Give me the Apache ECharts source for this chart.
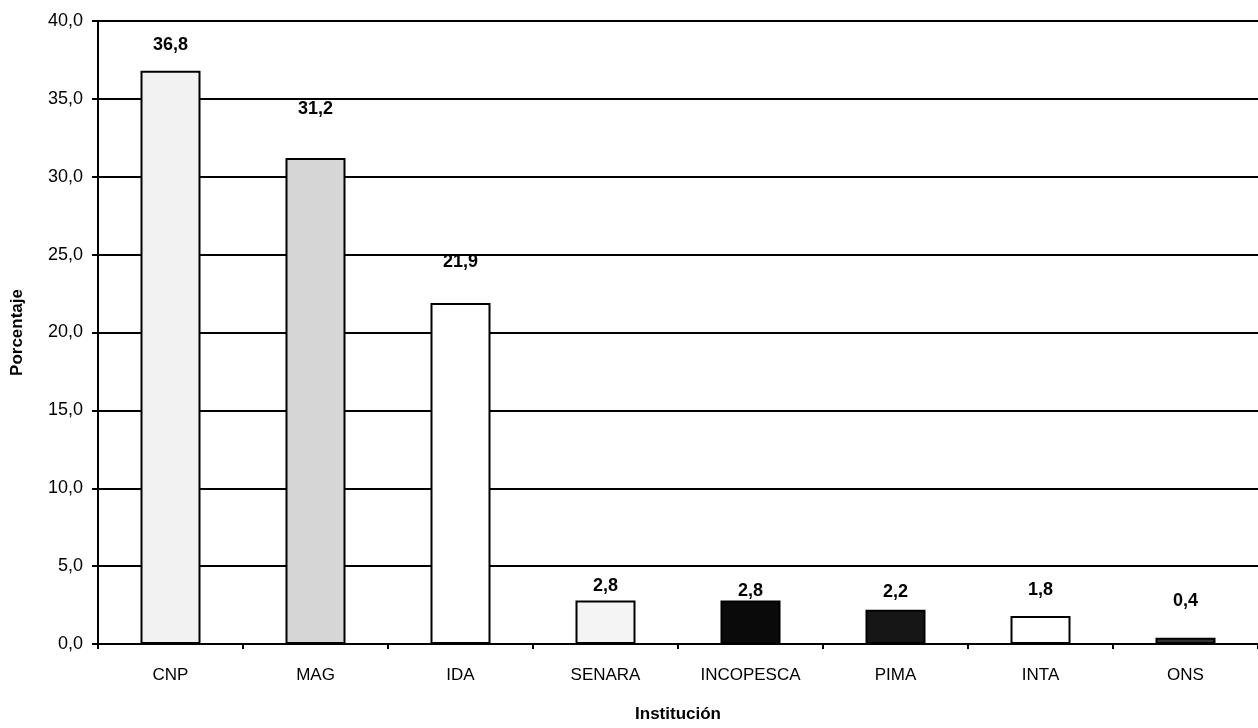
<!DOCTYPE html>
<html>
<head>
<meta charset="utf-8">
<script src="https://cdn.jsdelivr.net/npm/echarts@6/dist/echarts.min.js"></script>
<style>
html,body{margin:0;padding:0;background:#fff;}
#chart{width:1258px;height:728px;}
</style>
</head>
<body>
<div id="chart"></div>
<script>
var categories = ['CNP', 'MAG', 'IDA', 'SENARA', 'INCOPESCA', 'PIMA', 'INTA', 'ONS'];
var values = [36.8, 31.2, 21.9, 2.8, 2.8, 2.2, 1.8, 0.4];
var yTicks = [0, 5, 10, 15, 20, 25, 30, 35, 40];

var barFills = ['#f2f2f2', '#d6d6d6', '#ffffff', '#f4f4f4', '#0a0a0a', '#161616', '#ffffff', '#333333'];
var labelGaps = [17, 40, 32, 5, 0, 9, 17, 28];

var fmt = function (v) { return Number(v).toFixed(1).replace('.', ','); };
var FONT = 'Arial, "Liberation Sans", sans-serif';

var seriesData = values.map(function (v, i) {
  return {
    value: v,
    itemStyle: { color: barFills[i] },
    label: { distance: labelGaps[i] }
  };
});

var chart = echarts.init(document.getElementById('chart'));
chart.setOption({
  backgroundColor: '#ffffff',
  animation: false,
  grid: { left: 98, top: 21, bottom: 76, width: 1172, containLabel: false },
  xAxis: {
    type: 'category',
    data: categories,
    name: 'Institución',
    nameLocation: 'middle',
    nameGap: 62,
    nameTextStyle: { fontFamily: FONT, fontWeight: 'bold', fontSize: 17, color: '#000' },
    axisLine: { lineStyle: { color: '#000', width: 2 } },
    axisTick: { show: true, length: 5, lineStyle: { color: '#000', width: 2 } },
    axisLabel: { fontFamily: FONT, fontSize: 17, color: '#000', margin: 23 }
  },
  yAxis: {
    type: 'value',
    min: yTicks[0],
    max: yTicks[yTicks.length - 1],
    interval: 5,
    name: 'Porcentaje',
    nameLocation: 'middle',
    nameGap: 72,
    nameRotate: 90,
    nameTextStyle: { fontFamily: FONT, fontWeight: 'bold', fontSize: 17, color: '#000' },
    axisLine: { show: true, lineStyle: { color: '#000', width: 2 } },
    axisTick: { show: true, length: 6, lineStyle: { color: '#000', width: 2 } },
    axisLabel: { fontFamily: FONT, fontSize: 18, color: '#000', margin: 15, formatter: fmt },
    splitLine: { show: true, lineStyle: { color: '#000', width: 2 } }
  },
  series: [{
    type: 'bar',
    data: seriesData,
    barWidth: 60,
    itemStyle: { borderColor: '#000', borderWidth: 2 },
    label: {
      show: true,
      position: 'top',
      formatter: function (p) { return fmt(p.value); },
      fontFamily: FONT,
      fontWeight: 'bold',
      fontSize: 18,
      color: '#000'
    }
  }]
});
</script>
</body>
</html>
